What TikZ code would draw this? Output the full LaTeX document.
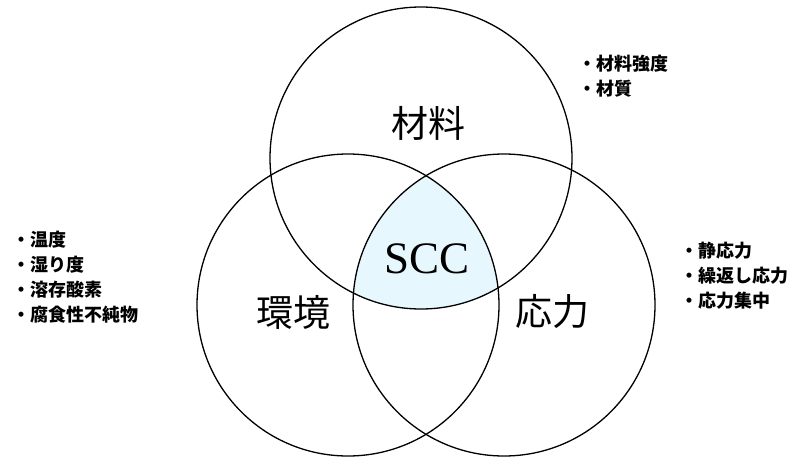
\documentclass[tikz,border=0pt]{standalone}
\usepackage{fontspec}
\newfontfamily\cjk{Noto Sans CJK JP}
\setmainfont{Liberation Serif}
\begin{document}
\begin{tikzpicture}[x=1pt,y=-1pt,
  circ/.style={draw=black,line width=1.3pt},
  big/.style={font=\cjk\fontsize{37}{40}\selectfont},
  lst/.style={font=\cjk\bfseries\fontsize{18}{25}\selectfont,align=left,anchor=west,inner sep=0pt}]
\useasboundingbox (0,0) rectangle (809,469);
\coordinate (ct) at (421,158);
\coordinate (cl) at (348,305);
\coordinate (cr) at (504,305);
\def\R{151}
\begin{scope}
\clip (ct) circle (\R);
\clip (cl) circle (\R);
\fill[cyan!10] (cr) circle (\R);
\end{scope}
\draw[circ] (ct) circle (\R);
\draw[circ] (cl) circle (\R);
\draw[circ] (cr) circle (\R);
\node[big] (m) at (428,123) {材料};
\node[big] (k) at (293,312) {環境};
\node[big] (o) at (552,312) {応力};
\node[font=\fontsize{45}{48}\selectfont] (s) at (427,259) {SCC};
\node[lst] (l1) at (578,76.5) {・材料強度\\・材質};
\node[lst] (l2) at (12,277.5) {・温度\\・湿り度\\・溶存酸素\\・腐食性不純物};
\node[lst] (l3) at (680,276) {・静応力\\・繰返し応力\\・応力集中};
\end{tikzpicture}
\end{document}
